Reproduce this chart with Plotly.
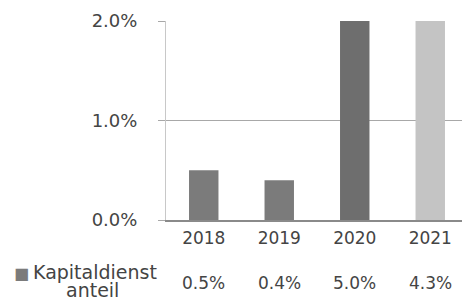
import plotly.graph_objects as go

years = ["2018", "2019", "2020", "2021"]
values = [0.5, 0.4, 5.0, 4.3]
value_labels = ["0.5%", "0.4%", "5.0%", "4.3%"]
bar_colors = ["#7b7b7b", "#7b7b7b", "#6e6e6e", "#c4c4c4"]
y_ticks = [0, 1, 2]
y_tick_labels = ["0.0%", "1.0%", "2.0%"]
series_name_lines = ["Kapitaldienst", "anteil"]

FONT = "DejaVu Sans"
TXT = "#444444"

fig = go.Figure()
fig.add_trace(go.Bar(
    x=years, y=values, marker_color=bar_colors, marker_line_width=0,
    width=0.39, showlegend=False,
))

for i, lab in enumerate(value_labels):
    fig.add_annotation(x=i, xref="x", y=-0.317, yref="paper", text=lab,
                       showarrow=False, font=dict(family=FONT, size=17, color=TXT),
                       xanchor="center", yanchor="middle")

fig.add_annotation(x=-0.235, xref="paper", y=-0.261, yref="paper", text=series_name_lines[0],
                   showarrow=False, font=dict(family=FONT, size=19, color=TXT),
                   xanchor="center", yanchor="middle")
fig.add_annotation(x=-0.245, xref="paper", y=-0.352, yref="paper", text=series_name_lines[1],
                   showarrow=False, font=dict(family=FONT, size=19, color=TXT),
                   xanchor="center", yanchor="middle")
fig.add_annotation(x=-0.477, xref="paper", y=-0.27, yref="paper", text="■",
                   showarrow=False, font=dict(family=FONT, size=16, color="#7b7b7b"),
                   xanchor="center", yanchor="middle")

fig.update_layout(
    width=470, height=300,
    margin=dict(l=158, r=10, t=13, b=88, autoexpand=False),
    paper_bgcolor="white", plot_bgcolor="white",
    xaxis=dict(
        type="category", showgrid=False, showline=True, linecolor="#8a8a8a", linewidth=1.5,
        ticks="", tickfont=dict(family=FONT, size=17, color=TXT), ticklabelstandoff=2,
        automargin=False,
    ),
    yaxis=dict(
        range=[0, 2], tickvals=y_ticks, ticktext=y_tick_labels,
        showgrid=True, gridcolor="#a8a8a8", gridwidth=1,
        showline=True, linecolor="#c8c8c8", linewidth=1,
        ticks="outside", ticklen=7, tickcolor="#a8a8a8",
        tickfont=dict(family=FONT, size=18, color=TXT), ticklabelstandoff=17,
        zeroline=False, automargin=False,
    ),
)

fig.write_html("out.html")
